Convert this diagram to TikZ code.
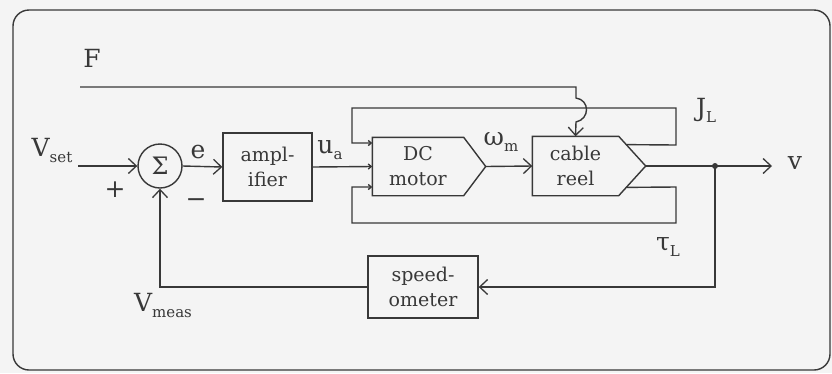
\documentclass[tikz,border=0pt]{standalone}
\usepackage{fontspec}
\setmainfont{DejaVu Serif}
\usetikzlibrary{arrows.meta,calc}
\definecolor{ink}{gray}{0.22}
\definecolor{bgc}{gray}{0.955}
\newcommand\boxfont{\fontsize{19}{25}\selectfont}
\newcommand\lblfont{\fontsize{25}{25}\selectfont}
\newcommand\subs[1]{\raisebox{-6pt}{\fontsize{15}{15}\selectfont #1}}
\begin{document}
\begin{tikzpicture}[x=1pt,y=-1pt,
  ln/.style={draw=ink, line width=1.4pt},
  arr/.style={ln, -{Straight Barb[length=8pt,width=15pt,line width=1.3pt]}},
  sarr/.style={ln, -{Straight Barb[length=3pt,width=5pt]}},
  blk/.style={draw=ink, line width=1.4pt, align=center, inner sep=0pt, font=\boxfont, text=ink},
  lbl/.style={font=\lblfont, inner sep=0pt, text=ink}]
\fill[bgc] (0,0) rectangle (832,373);
\useasboundingbox (0,0) rectangle (832,373);
\draw[ln, rounded corners=16pt] (13,10) rectangle (830,370);

% blocks
\node[draw=ink, line width=1.4pt, circle, minimum size=44pt, inner sep=0pt, font=\fontsize{24}{24}\selectfont, text=ink] (sum) at (160,166) {Σ};
\node[blk, minimum width=89pt, minimum height=68pt] (amp) at (267.5,167) {ampl-\\ifier};
\node[blk, draw=none, minimum width=90pt, minimum height=57pt] (motor) at (418,166.5) {DC\\motor};
\coordinate (motortip) at ($(motor.east)+(22,0)$);
\draw[ln, line join=miter] (motor.north west) -- (motor.north east) -- (motortip) -- (motor.south east) -- (motor.south west) -- cycle;
\node[blk, draw=none, minimum width=85pt, minimum height=58pt] (reel) at (575.5,166) {cable\\reel};
\coordinate (reeltip) at ($(reel.east)+(27,0)$);
\draw[ln, line join=miter] (reel.north west) -- (reel.north east) -- (reeltip) -- (reel.south east) -- (reel.south west) -- cycle;
\node[blk, minimum width=110pt, minimum height=62pt] (speed) at (423,287) {speed-\\ometer};

% coordinates
\coordinate (vin) at (78,166);
\coordinate (vout) at (772,166);
\coordinate (dot) at (715,166);
\coordinate (fin) at (80,87);
\coordinate (jtop) at ($(reel.north east)!0.28!(reeltip)$);
\coordinate (tbot) at ($(reel.south east)!0.28!(reeltip)$);

% signal paths
\draw[arr] (vin) -- (sum.west);
\draw[arr] (sum.east) -- (amp.west);
\draw[sarr] (amp.east) -- (motor.west);
\draw[arr] (motortip) -- (reel.west);
\draw[arr] (reeltip) -- (vout);
\fill[ink] (dot) circle (3pt);
\draw[arr] (dot) |- (speed.east);
\draw[arr] (speed.west) -| (sum.south);

% J_L loop
\draw[sarr] (jtop) -- (676,145) -- (676,108) -- (352,108) -- (352,143) -- (motor.west |- 0,143);
% tau_L loop
\draw[sarr] (tbot) -- (676,187) -- (676,223) -- (352,223) -- (352,187) -- (motor.west |- 0,187);

% F
\draw[arr] (fin) -- (576,87) -- (576,98) .. controls (590,100) and (590,119) .. (576,122) -- (reel.north);

% labels
\node[lbl] (lF) at (92,58) {F};
\node[lbl] (lVset) at (52,150) {V\subs{set}};
\node[lbl] (lplus) at (115,190) {+};
\node[lbl] (lminus) at (196,203) {−};
\node[lbl] (le) at (198,152) {e};
\node[lbl] (lua) at (330,150) {u\subs{a}};
\node[lbl] (lom) at (501,142) {ω\subs{m}};
\node[lbl] (lJL) at (706,110) {J\subs{L}};
\node[lbl] (lv) at (795,163) {v};
\node[lbl] (ltL) at (668,247) {τ\subs{L}};
\node[lbl] (lVm) at (163,305) {V\subs{meas}};
\end{tikzpicture}
\end{document}
